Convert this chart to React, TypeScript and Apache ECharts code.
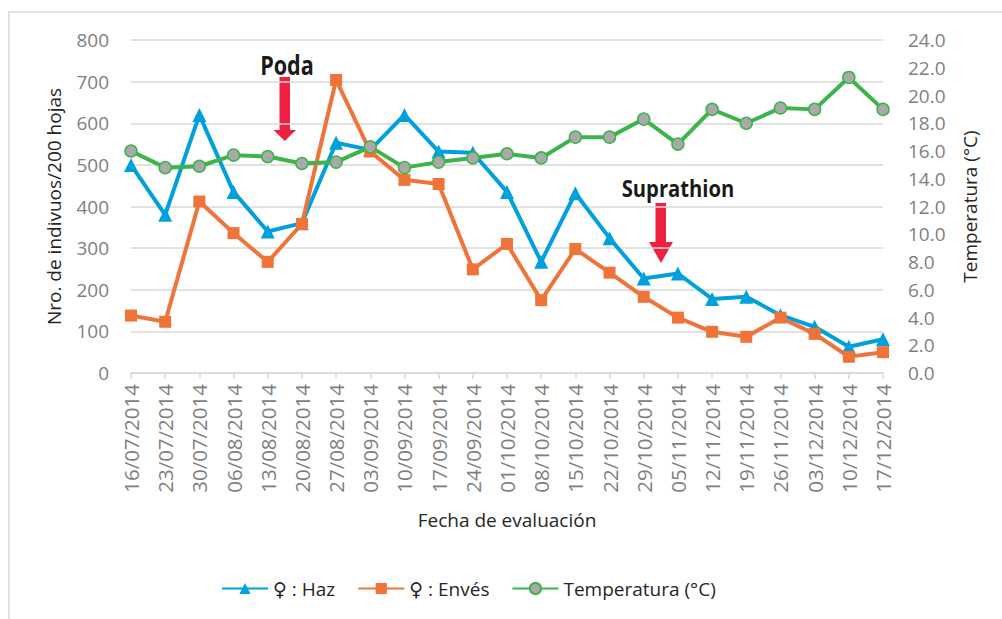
import React, { useEffect, useRef } from "react";
import * as echarts from "echarts";

const categories = [
  "16/07/2014", "23/07/2014", "30/07/2014", "06/08/2014", "13/08/2014", "20/08/2014",
  "27/08/2014", "03/09/2014", "10/09/2014", "17/09/2014", "24/09/2014", "01/10/2014",
  "08/10/2014", "15/10/2014", "22/10/2014", "29/10/2014", "05/11/2014", "12/11/2014",
  "19/11/2014", "26/11/2014", "03/12/2014", "10/12/2014", "17/12/2014",
];
const hazValues = [500, 380, 620, 435, 340, 360, 553, 536, 620, 532, 529, 435, 267, 432, 324, 227, 239, 178, 183, 139, 111, 63, 81];
const envesValues = [138, 123, 412, 336, 267, 358, 704, 532, 464, 454, 249, 310, 175, 298, 241, 183, 133, 99, 87, 133, 94, 39, 50];
const temperatureValues = [16.0, 14.8, 14.9, 15.7, 15.6, 15.1, 15.2, 16.3, 14.8, 15.2, 15.5, 15.8, 15.5, 17.0, 17.0, 18.3, 16.5, 19.0, 18.0, 19.1, 19.0, 21.3, 19.0];
const seriesNames = ["\u2640 : Haz", "\u2640 : Envés", "Temperatura (°C)"];
const leftAxisName = "Nro. de indivuos/200 hojas";
const rightAxisName = "Temperatura (°C)";
const xAxisName = "Fecha de evaluación";

const FONT = "'Open Sans', 'DejaVu Sans', sans-serif";
const GRAY = "#7f7f7f";
const DARK = "#262626";
const GRID = "#d9d9d9";
const BLUE = "#00a0dc";
const ORANGE = "#f0743a";
const GREEN = "#3cb44b";
const RED = "#ee2240";

export default function App() {
  const ref = useRef<HTMLDivElement>(null);
  useEffect(() => {
    if (!ref.current) return;
    const chart = echarts.init(ref.current, undefined, { renderer: "svg" });
    chart.setOption({
      animation: false,
      backgroundColor: "#ffffff",
      textStyle: { fontFamily: FONT },
      grid: { left: 131, right: 119, top: 40, bottom: 246, containLabel: false },
      legend: {
        left: 216,
        top: 574,
        itemWidth: 46,
        itemHeight: 14,
        itemGap: 22,
        textStyle: { fontSize: 19, color: DARK, fontFamily: FONT },
        data: seriesNames,
      },
      xAxis: {
        type: "category",
        data: categories,
        boundaryGap: false,
        name: xAxisName,
        nameLocation: "middle",
        nameGap: 137,
        nameTextStyle: { fontSize: 19, color: DARK, fontFamily: FONT },
        axisLine: { lineStyle: { color: GRID, width: 1.5 } },
        axisTick: { show: true, length: 6, lineStyle: { color: GRID, width: 1.5 } },
        axisLabel: { rotate: 90, fontSize: 20.5, color: GRAY, margin: 11, interval: 0, fontFamily: FONT },
        splitLine: { show: false },
      },
      yAxis: [
        {
          type: "value",
          min: 0,
          max: 800,
          interval: 100,
          name: leftAxisName,
          nameLocation: "middle",
          nameGap: 68,
          nameRotate: 90,
          nameTextStyle: { fontSize: 19, color: DARK, fontFamily: FONT },
          axisLine: { show: false },
          axisTick: { show: false },
          axisLabel: { fontSize: 19, color: GRAY, margin: 22, fontFamily: FONT },
          splitLine: { lineStyle: { color: GRID, width: 1.5 } },
        },
        {
          type: "value",
          min: 0,
          max: 24,
          interval: 2,
          name: rightAxisName,
          nameLocation: "middle",
          nameGap: 77,
          nameRotate: 90,
          nameTextStyle: { fontSize: 19, color: DARK, fontFamily: FONT },
          axisLine: { show: false },
          axisTick: { show: false },
          axisLabel: {
            fontSize: 19,
            color: GRAY,
            margin: 25,
            fontFamily: FONT,
            formatter: (v: number) => v.toFixed(1),
          },
          splitLine: { show: false },
        },
      ],
      series: [
        {
          name: seriesNames[0],
          type: "line",
          data: hazValues,
          yAxisIndex: 0,
          symbol: "triangle",
          symbolSize: 14,
          lineStyle: { color: BLUE, width: 4 },
          itemStyle: { color: BLUE },
        },
        {
          name: seriesNames[1],
          type: "line",
          data: envesValues,
          yAxisIndex: 0,
          symbol: "rect",
          symbolSize: 12,
          lineStyle: { color: ORANGE, width: 4 },
          itemStyle: { color: ORANGE },
        },
        {
          name: seriesNames[2],
          type: "line",
          data: temperatureValues,
          yAxisIndex: 1,
          symbol: "circle",
          symbolSize: 12,
          lineStyle: { color: GREEN, width: 4 },
          itemStyle: { color: "#a9a9a9", borderColor: GREEN, borderWidth: 1.5 },
        },
      ],
      graphic: [
        {
          type: "rect",
          shape: { x: 9, y: 12, width: 1100, height: 700 },
          style: { fill: "none", stroke: GRID, lineWidth: 1.5 },
          silent: true,
        },
        {
          type: "text",
          x: 287,
          y: 65,
          scaleX: 0.8,
          style: {
            text: "Poda",
            fontSize: 27,
            fontWeight: "bold",
            fontFamily: FONT,
            fill: "#1a1a1a",
            align: "center",
            verticalAlign: "middle",
          },
          silent: true,
        },
        {
          type: "polygon",
          shape: {
            points: [
              [279.5, 77], [290, 77], [290, 130], [296, 130], [284.8, 141], [273.5, 130], [279.5, 130],
            ],
          },
          style: { fill: RED },
          silent: true,
        },
        {
          type: "text",
          x: 678,
          y: 188,
          scaleX: 0.88,
          style: {
            text: "Suprathion",
            fontSize: 23,
            fontWeight: "bold",
            fontFamily: FONT,
            fill: "#1a1a1a",
            align: "center",
            verticalAlign: "middle",
          },
          silent: true,
        },
        {
          type: "polygon",
          shape: {
            points: [
              [655.5, 203], [666, 203], [666, 242], [673, 242], [661, 263], [649, 242], [655.5, 242],
            ],
          },
          style: { fill: RED },
          silent: true,
        },
      ],
    });
    return () => chart.dispose();
  }, []);
  return (
    <div
      ref={ref}
      style={{ position: "fixed", left: 0, top: 0, width: 1002, height: 619, background: "#fff" }}
    />
  );
}
